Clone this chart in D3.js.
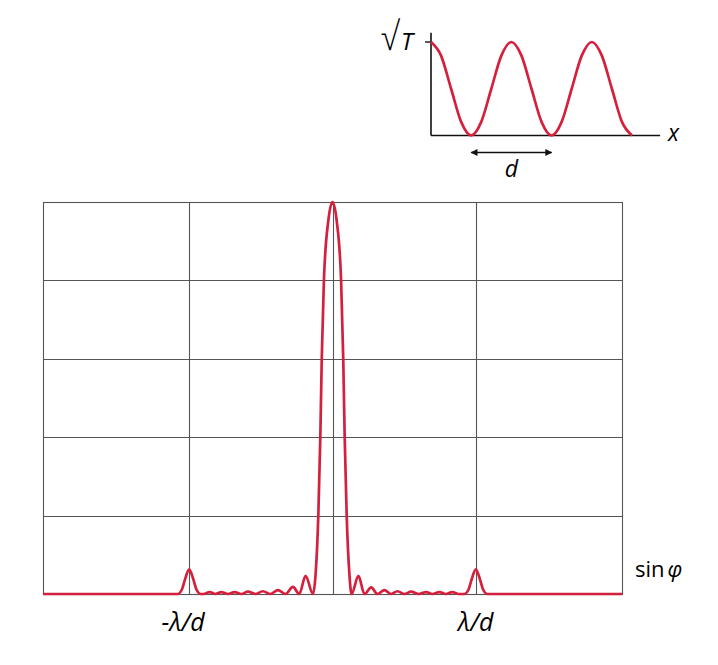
<!DOCTYPE html>
<html>
<head>
<meta charset="utf-8">
<script src="https://cdn.jsdelivr.net/npm/d3@7"></script>
<style>
  body { margin: 0; background: #fff; }
  svg { display: block; font-family: "Open Sans", "DejaVu Sans", sans-serif; }
</style>
</head>
<body>
<div id="chart"></div>
<script>
// Diffraction pattern, sin(phi) in units of lambda/d
let sinPhi = [
    -2.02, -1.08, -1.05, -1.03, -1.0, -0.97, -0.95, -0.92,
    -0.9, -0.857, -0.816, -0.776, -0.73, -0.683, -0.636, -0.59, -0.538, -0.486,
    -0.433, -0.381, -0.328, -0.276, -0.232, -0.188, -0.136,
    -0.118, -0.099, -0.085, -0.075, -0.06, -0.03, 0,
    0.03, 0.06, 0.075, 0.085, 0.099, 0.118,
    0.133, 0.181, 0.223, 0.27, 0.314, 0.362, 0.408, 0.453, 0.502, 0.548,
    0.599, 0.653, 0.697, 0.746, 0.791, 0.836, 0.88,
    0.92, 0.95, 0.97, 1.0, 1.03, 1.05, 1.08, 2.02
];
let intensity = [
    0, 0, 0.012, 0.036, 0.063, 0.036, 0.012, 0,
    0, 0.005, 0, 0.005, 0, 0.005, 0, 0.006, 0, 0.007,
    0, 0.01, 0, 0.018, 0, 0.046, 0,
    0.05, 0.2, 0.4, 0.6, 0.8, 0.95, 1,
    0.95, 0.8, 0.6, 0.4, 0.2, 0.05,
    0, 0.046, 0, 0.017, 0, 0.01, 0, 0.007, 0, 0.006,
    0, 0.005, 0, 0.005, 0, 0.005, 0,
    0, 0.012, 0.036, 0.063, 0.036, 0.012, 0, 0
];

let xGrid = [-1, 0, 1];
let yGrid = [0.2, 0.4, 0.6, 0.8];
let xLabels = [
    { v: -1, text: "-λ/d", shift: -6 },
    { v: 1, text: "λ/d", shift: 0 }
];

// Inset: sqrt(T) against x, x in units of the period d
let insetX = [0, 0.125, 0.25, 0.375, 0.5, 0.625, 0.75, 0.875, 1,
    1.125, 1.25, 1.375, 1.5, 1.625, 1.75, 1.875, 2, 2.125, 2.25, 2.375, 2.5];
let insetT = [1, 0.854, 0.5, 0.146, 0, 0.146, 0.5, 0.854, 1,
    0.854, 0.5, 0.146, 0, 0.146, 0.5, 0.854, 1, 0.854, 0.5, 0.146, 0];

let width = 718;
let height = 665;
let red = "#d4203c";

let svg = d3.select("#chart").append("svg")
    .attr("width", width)
    .attr("height", height);

// main plot
let x = d3.scaleLinear().domain([-2.02, 2.02]).range([43, 622]);
let y = d3.scaleLinear().domain([0, 1]).range([594, 202]);

let grid = svg.append("g").attr("stroke", "#555").attr("stroke-width", 1.1);

grid.selectAll("line.v")
    .data(xGrid)
    .join("line")
    .attr("class", "v")
    .attr("x1", d => Math.round(x(d)) + 0.5)
    .attr("x2", d => Math.round(x(d)) + 0.5)
    .attr("y1", y(1))
    .attr("y2", y(0));

grid.selectAll("line.h")
    .data(yGrid)
    .join("line")
    .attr("class", "h")
    .attr("x1", x(-2.02))
    .attr("x2", x(2.02))
    .attr("y1", d => Math.round(y(d)) + 0.5)
    .attr("y2", d => Math.round(y(d)) + 0.5);

grid.append("rect")
    .attr("x", x(-2.02) + 0.5)
    .attr("y", y(1) + 0.5)
    .attr("width", x(2.02) - x(-2.02))
    .attr("height", y(0) - y(1))
    .attr("fill", "none");

let line = d3.line()
    .x(d => x(d[0]))
    .y(d => y(d[1]))
    .curve(d3.curveMonotoneX);

svg.append("path")
    .datum(d3.zip(sinPhi, intensity))
    .attr("d", line)
    .attr("fill", "none")
    .attr("stroke", red)
    .attr("stroke-width", 2.7)
    .attr("stroke-linejoin", "round");

svg.selectAll("text.xlab")
    .data(xLabels)
    .join("text")
    .attr("class", "xlab")
    .attr("x", d => x(d.v) + d.shift)
    .attr("y", 631)
    .attr("text-anchor", "middle")
    .style("font-size", "25px")
    .style("font-style", "italic")
    .text(d => d.text);

let sinLabel = svg.append("text")
    .attr("x", 635)
    .attr("y", 577)
    .style("font-size", "22px");
sinLabel.append("tspan").text("sin");
sinLabel.append("tspan").attr("dx", 3).style("font-style", "italic").text("φ");

// inset
let xi = d3.scaleLinear().domain([0, 2.5]).range([431, 632]);
let yi = d3.scaleLinear().domain([0, 1]).range([135.5, 42]);

let inset = svg.append("g");

inset.append("line")
    .attr("x1", xi(0)).attr("x2", xi(0))
    .attr("y1", yi(0)).attr("y2", yi(1.1))
    .attr("stroke", "#111").attr("stroke-width", 1.6);

inset.append("line")
    .attr("x1", xi(0)).attr("x2", xi(2.85))
    .attr("y1", yi(0)).attr("y2", yi(0))
    .attr("stroke", "#111").attr("stroke-width", 1.6);

inset.append("line")
    .attr("x1", xi(0) - 6).attr("x2", xi(0))
    .attr("y1", yi(1)).attr("y2", yi(1))
    .attr("stroke", "#333").attr("stroke-width", 1.6);

let iline = d3.line()
    .x(d => xi(d[0]))
    .y(d => yi(d[1]))
    .curve(d3.curveMonotoneX);

inset.append("path")
    .datum(d3.zip(insetX, insetT))
    .attr("d", iline)
    .attr("fill", "none")
    .attr("stroke", red)
    .attr("stroke-width", 2.7);

// double arrow for one period d
let defs = svg.append("defs");
defs.append("marker")
    .attr("id", "head")
    .attr("viewBox", "0 0 10 10")
    .attr("refX", 9)
    .attr("refY", 5)
    .attr("markerWidth", 8)
    .attr("markerHeight", 7)
    .attr("markerUnits", "userSpaceOnUse")
    .attr("orient", "auto-start-reverse")
    .append("path")
    .attr("d", "M0,0 L10,5 L0,10 Z")
    .attr("fill", "#111");

inset.append("line")
    .attr("x1", xi(0.5)).attr("x2", xi(1.5))
    .attr("y1", 152.5).attr("y2", 152.5)
    .attr("stroke", "#111").attr("stroke-width", 1.6)
    .attr("marker-start", "url(#head)")
    .attr("marker-end", "url(#head)");

inset.append("text")
    .attr("x", xi(1))
    .attr("y", 177)
    .attr("text-anchor", "middle")
    .style("font-size", "23px")
    .style("font-style", "italic")
    .text("d");

inset.append("text")
    .attr("x", 668)
    .attr("y", 141)
    .style("font-size", "23px")
    .style("font-style", "italic")
    .text("x");

// sqrt(T) axis label, radical stretched to the height seen in the reference
inset.append("text")
    .attr("transform", "translate(381,50) scale(1.1,1.3)")
    .style("font-size", "30px")
    .style("font-weight", "300")
    .text("√");

inset.append("text")
    .attr("x", 401)
    .attr("y", 50)
    .style("font-size", "24px")
    .style("font-style", "italic")
    .text("T");
</script>
</body>
</html>
